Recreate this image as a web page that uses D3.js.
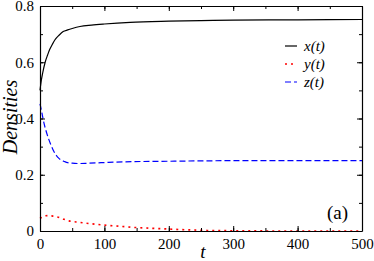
<!DOCTYPE html>
<html><head><meta charset="utf-8">
<script src="https://cdn.jsdelivr.net/npm/d3@7"></script>
</head><body style="margin:0">
<svg id="c" width="374" height="261" font-family="Liberation Serif" style="font-family:'Liberation Serif'"></svg>
<script>
const xTicks=[0,100,200,300,400,500];
const yTicks=[0,0.2,0.4,0.6,0.8];
const yTickLabels=["0","0.2","0.4","0.6","0.8"];
const tX=[0,2,4,8,12,15,19,23,30,36,43,50,62,80,100,140,200,250,300,400,500];
const xVals=[0.5,0.535,0.56,0.6,0.627,0.645,0.663,0.679,0.697,0.709,0.715,0.72,0.727,0.732,0.736,0.742,0.746,0.748,0.75,0.751,0.752];
const tZ=[0,3,6,9,13,17,21,25,29,33,38,43,50,61,75,97,131,200,300,400,500];
const zVals=[0.452,0.42,0.385,0.359,0.33,0.306,0.285,0.27,0.259,0.252,0.247,0.243,0.241,0.24,0.241,0.243,0.246,0.248,0.25,0.25,0.25];
const tY=[0,1.5,5,9,14,20,27,37,45,61,71,87,105,123,144,169,190,220,260,300,400,500];
const yVals=[0.045,0.047,0.051,0.054,0.055,0.053,0.05,0.042,0.036,0.031,0.028,0.024,0.02,0.017,0.013,0.01,0.008,0.005,0.002,0.001,0.0,0.0];
const legendLabels=["x(t)","y(t)","z(t)"];
const colors=["#000000","#ff0000","#0000ff"];
const dashes=[null,"2,4","6,3"];
const FONT="'Liberation Serif'";

const svg=d3.select("#c");
const L=40,R=362,T=6,B=231;
const x=d3.scaleLinear().domain([0,500]).range([L,R]);
const y=d3.scaleLinear().domain([0,0.8]).range([B,T]);

function txt(sel){return sel.attr("font-family","Liberation Serif").style("font-family",FONT).attr("fill","#000");}

const g=svg.append("g");
const line=d3.line().x(d=>x(d[0])).y(d=>y(d[1])).curve(d3.curveMonotoneX);
const series=[d3.zip(tX,xVals),d3.zip(tY,yVals),d3.zip(tZ,zVals)];
series.forEach((s,i)=>{
  g.append("path").attr("d",line(s)).attr("fill","none").attr("stroke",colors[i])
   .attr("stroke-width",i==1?1.6:1.2).attr("stroke-dasharray",dashes[i]);
});

const minorX=d3.range(0,501,50), minorY=d3.range(0,0.81,0.1);
function ax(axisGen,tr){
  const a=svg.append("g").attr("transform",tr).call(axisGen);
  a.attr("font-family","Liberation Serif");
  a.selectAll("path").attr("stroke","#000").attr("stroke-width",1.2);
  a.selectAll("line").attr("stroke","#000").attr("stroke-width",1);
  txt(a.selectAll("text")).attr("font-size",15);
  return a;
}
const fmtX=d=>String(d);
ax(d3.axisBottom(x).tickValues(minorX).tickSize(-3).tickFormat(""),`translate(0,${B})`).select("path").remove();
ax(d3.axisBottom(x).tickValues(xTicks).tickSizeInner(-5).tickSizeOuter(0).tickPadding(7).tickFormat(fmtX),`translate(0,${B})`);
ax(d3.axisTop(x).tickValues(minorX).tickSize(-3).tickFormat(""),`translate(0,${T})`).select("path").remove();
ax(d3.axisTop(x).tickValues(xTicks).tickSizeInner(-5).tickSizeOuter(0).tickFormat(""),`translate(0,${T})`);
ax(d3.axisLeft(y).tickValues(minorY).tickSize(-3).tickFormat(""),`translate(${L},0)`).select("path").remove();
ax(d3.axisLeft(y).tickValues(yTicks).tickSizeInner(-5).tickSizeOuter(0).tickPadding(6).tickFormat((d,i)=>yTickLabels[i]),`translate(${L},0)`);
ax(d3.axisRight(y).tickValues(minorY).tickSize(-3).tickFormat(""),`translate(${R},0)`).select("path").remove();
ax(d3.axisRight(y).tickValues(yTicks).tickSizeInner(-5).tickSizeOuter(0).tickFormat(""),`translate(${R},0)`);

txt(svg.append("text")).attr("x",203).attr("y",258).attr("text-anchor","middle").attr("font-size",19).attr("font-style","italic").text("t");
txt(svg.append("text")).attr("transform","translate(17,117) rotate(-90)").attr("text-anchor","middle").attr("font-size",20).attr("font-style","italic").text("Densities");
txt(svg.append("text")).attr("x",348).attr("y",219).attr("text-anchor","end").attr("font-size",19).text("(a)");

legendLabels.forEach((lab,i)=>{
  const yy=46+i*18;
  svg.append("line").attr("x1",285).attr("x2",297).attr("y1",yy).attr("y2",yy).attr("stroke",colors[i])
    .attr("stroke-width",i==1?1.6:1.2).attr("stroke-dasharray",dashes[i]);
  txt(svg.append("text")).attr("x",304).attr("y",yy+5).attr("font-size",15).attr("font-style","italic").text(lab);
});
</script></body></html>
